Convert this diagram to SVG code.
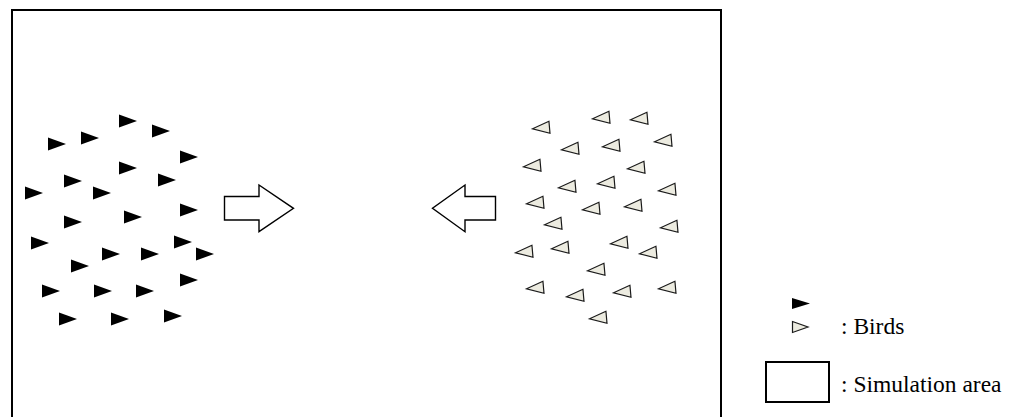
<svg xmlns="http://www.w3.org/2000/svg" xmlns:xlink="http://www.w3.org/1999/xlink" width="1010" height="417" viewBox="0 0 1010 417">
  <style>
    .area { fill: #ffffff; stroke: #000000; stroke-width: 2; }
    .dark { fill: #000000; stroke: none; }
    .light { fill: #ecebe0; stroke: #1a1a1a; stroke-width: 1.2; stroke-linejoin: miter; }
    .arrow { fill: #ffffff; stroke: #000000; stroke-width: 1.4; stroke-linejoin: miter; }
    .label { font-family: "Liberation Serif", "Times New Roman", serif; font-size: 23.5px; fill: #000000; }
  </style>
  <defs>
    <polygon id="bird-dark" class="dark" points="-9,-6.5 9,0 -9,6.5"/>
    <polygon id="bird-light" class="light" points="8.5,-6 -8.5,0 8.5,6"/>
  </defs>

  <rect x="0" y="0" width="1010" height="417" fill="#ffffff"/>

  <g id="simulation-area">
    <rect class="area" x="12" y="10" width="709" height="420"/>
  </g>

  <g id="flock-left">
    <use xlink:href="#bird-dark" x="128" y="121"/>
    <use xlink:href="#bird-dark" x="161" y="131"/>
    <use xlink:href="#bird-dark" x="90" y="138"/>
    <use xlink:href="#bird-dark" x="57" y="144"/>
    <use xlink:href="#bird-dark" x="189" y="157"/>
    <use xlink:href="#bird-dark" x="128" y="168"/>
    <use xlink:href="#bird-dark" x="73" y="181"/>
    <use xlink:href="#bird-dark" x="167" y="180"/>
    <use xlink:href="#bird-dark" x="34" y="193"/>
    <use xlink:href="#bird-dark" x="102" y="193"/>
    <use xlink:href="#bird-dark" x="189" y="210"/>
    <use xlink:href="#bird-dark" x="73" y="222"/>
    <use xlink:href="#bird-dark" x="133" y="217"/>
    <use xlink:href="#bird-dark" x="40" y="243"/>
    <use xlink:href="#bird-dark" x="183" y="242"/>
    <use xlink:href="#bird-dark" x="111" y="254"/>
    <use xlink:href="#bird-dark" x="150" y="254"/>
    <use xlink:href="#bird-dark" x="205" y="254"/>
    <use xlink:href="#bird-dark" x="80" y="266"/>
    <use xlink:href="#bird-dark" x="189" y="280"/>
    <use xlink:href="#bird-dark" x="51" y="291"/>
    <use xlink:href="#bird-dark" x="103" y="291"/>
    <use xlink:href="#bird-dark" x="145" y="291"/>
    <use xlink:href="#bird-dark" x="68" y="319"/>
    <use xlink:href="#bird-dark" x="120" y="319"/>
    <use xlink:href="#bird-dark" x="173" y="316"/>
  </g>

  <g id="flock-right">
    <use xlink:href="#bird-light" transform="translate(601,118) rotate(-5)"/>
    <use xlink:href="#bird-light" transform="translate(639,119) rotate(-5)"/>
    <use xlink:href="#bird-light" transform="translate(541,128) rotate(-5)"/>
    <use xlink:href="#bird-light" transform="translate(663,141) rotate(-5)"/>
    <use xlink:href="#bird-light" transform="translate(611,146) rotate(-5)"/>
    <use xlink:href="#bird-light" transform="translate(570,149) rotate(-5)"/>
    <use xlink:href="#bird-light" transform="translate(532,166) rotate(-5)"/>
    <use xlink:href="#bird-light" transform="translate(636,168) rotate(-5)"/>
    <use xlink:href="#bird-light" transform="translate(606,183) rotate(-5)"/>
    <use xlink:href="#bird-light" transform="translate(567,187) rotate(-5)"/>
    <use xlink:href="#bird-light" transform="translate(667,190) rotate(-5)"/>
    <use xlink:href="#bird-light" transform="translate(535,203) rotate(-5)"/>
    <use xlink:href="#bird-light" transform="translate(591,209) rotate(-5)"/>
    <use xlink:href="#bird-light" transform="translate(633,206) rotate(-5)"/>
    <use xlink:href="#bird-light" transform="translate(553,224) rotate(-5)"/>
    <use xlink:href="#bird-light" transform="translate(669,227) rotate(-5)"/>
    <use xlink:href="#bird-light" transform="translate(524,252) rotate(-5)"/>
    <use xlink:href="#bird-light" transform="translate(560,248) rotate(-5)"/>
    <use xlink:href="#bird-light" transform="translate(619,243) rotate(-5)"/>
    <use xlink:href="#bird-light" transform="translate(648,253) rotate(-5)"/>
    <use xlink:href="#bird-light" transform="translate(596,270) rotate(-5)"/>
    <use xlink:href="#bird-light" transform="translate(535,288) rotate(-5)"/>
    <use xlink:href="#bird-light" transform="translate(575,296) rotate(-5)"/>
    <use xlink:href="#bird-light" transform="translate(622,292) rotate(-5)"/>
    <use xlink:href="#bird-light" transform="translate(667,288) rotate(-5)"/>
    <use xlink:href="#bird-light" transform="translate(598,318) rotate(-5)"/>
  </g>

  <g id="arrows">
    <polygon id="arrow-right" class="arrow" points="224.5,196.5 259,196.5 259,185 293.5,208.3 259,231.7 259,220 224.5,220"/>
    <polygon id="arrow-left" class="arrow" points="495.5,196.5 465,196.5 465,185 432.5,208.3 465,231.7 465,220 495.5,220"/>
  </g>

  <g id="legend">
    <polygon class="dark" points="792,298 810,303.5 792,309"/>
    <polygon class="light" points="792.5,321.5 808,327 792.5,332.5"/>
    <text class="label" x="841" y="334">: Birds</text>
    <rect class="area" x="766" y="362" width="63" height="40"/>
    <text class="label" x="841" y="392">: Simulation area</text>
  </g>
</svg>
